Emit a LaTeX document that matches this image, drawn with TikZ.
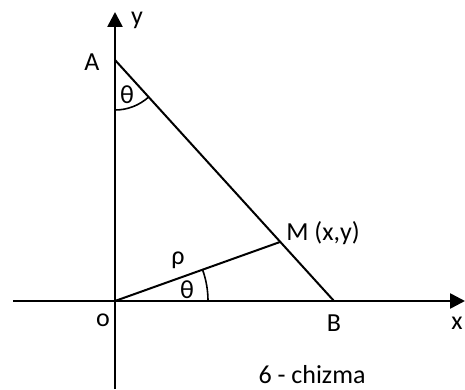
\documentclass[tikz,border=0pt]{standalone}
\usepackage{fontspec}
\setmainfont{Carlito}
\usetikzlibrary{arrows.meta,angles}
\tikzset{
  ax-line/.style={line width=2.6pt, -{Triangle[length=15pt,width=15pt]}},
  geo-line/.style={line width=2pt},
  geo-angle/.style={draw, line width=1.6pt},
  geo-label/.style={font=\fontsize{26}{30}\selectfont, inner sep=0pt}
}
\begin{document}
\begin{tikzpicture}[x=1pt,y=1pt]
\useasboundingbox (0,0) rectangle (465,389);
% Points
\coordinate (O) at (115,88);
\coordinate (A) at (115,329);
\coordinate (B) at (334,88);
\coordinate (M) at (280,147);
\coordinate (xs) at (13,88);
\coordinate (xe) at (465,88);
\coordinate (ys) at (115,0);
\coordinate (ye) at (115,377);
% Axes
\draw[ax-line] (xs) -- (xe);
\draw[ax-line] (ys) -- (ye);
% Lines
\draw[geo-line] (A) -- (B);
\draw[geo-line] (O) -- (M);
% Angles
\pic[geo-angle, angle radius=50pt] {angle=O--A--B};
\pic[geo-angle, angle radius=93pt] {angle=B--O--M};
% Labels
\node[geo-label] (lA) at (92,327) {A};
\node[geo-label] (ly) at (137,369) {y};
\node[geo-label] (lta) at (127,294) {θ};
\node[geo-label] (lM) at (323,156) {M (x,y)};
\node[geo-label] (lrho) at (178,129) {ρ};
\node[geo-label] (lto) at (187,99) {θ};
\node[geo-label] (lO) at (103,69) {o};
\node[geo-label] (lB) at (334,66) {B};
\node[geo-label] (lx) at (457,66) {x};
\node[geo-label] (cap) at (312,14) {6 - chizma};
\end{tikzpicture}
\end{document}
